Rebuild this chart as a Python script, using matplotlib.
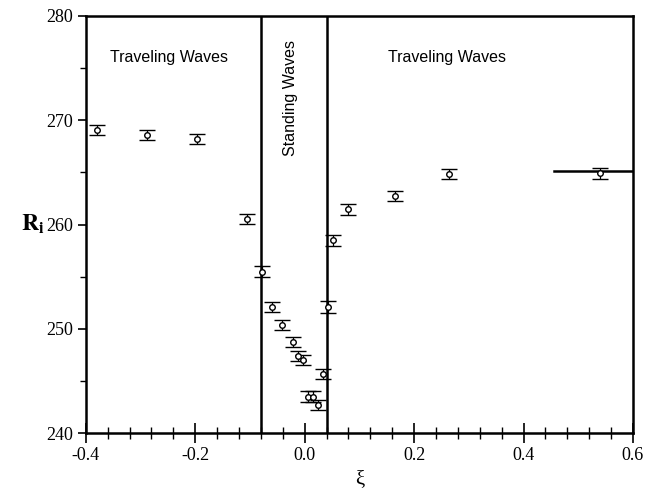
import numpy as np
import matplotlib
matplotlib.use('Agg')
import matplotlib.pyplot as plt
from matplotlib.ticker import MultipleLocator

plt.rcParams.update({
    'font.family': 'serif',
    'font.serif': ['Liberation Serif', 'DejaVu Serif'],
    'mathtext.fontset': 'stix',
    'axes.unicode_minus': False,
})

# measured points: reduced parameter xi, critical value R_i, uncertainty
xi = [-0.380, -0.288, -0.196, -0.105, -0.078, -0.059, -0.041, -0.021,
      -0.012, -0.003, 0.007, 0.016, 0.025, 0.034, 0.042, 0.052,
      0.080, 0.166, 0.264, 0.540]
R_i = [269.05, 268.57, 268.19, 260.55, 255.47, 252.08, 250.38, 248.72,
       247.41, 247.03, 243.52, 243.52, 242.75, 245.69, 252.11, 258.50,
       261.45, 262.75, 264.86, 264.90]
R_err = [0.50, 0.50, 0.50, 0.50, 0.52, 0.50, 0.50, 0.50,
         0.50, 0.50, 0.52, 0.52, 0.48, 0.50, 0.55, 0.55,
         0.50, 0.50, 0.50, 0.50]

# boundaries of the standing-wave region
boundaries = [-0.08, 0.04]

# asymptotic level drawn at the right edge
asym_xi = [0.455, 0.6]
asym_R = [265.15, 265.15]

fig = plt.figure(figsize=(6.6, 4.98), dpi=100)
ax = fig.add_axes([0.130, 0.130, 0.829, 0.838])

for b in boundaries:
    ax.axvline(b, color='black', linewidth=1.8, zorder=2)

ax.plot(asym_xi, asym_R, color='black', linewidth=1.8, zorder=2)

ax.errorbar(xi, R_i, yerr=R_err, fmt='o', markersize=4,
            markerfacecolor='white', markeredgecolor='black',
            markeredgewidth=1.0, ecolor='black', elinewidth=0.9,
            capsize=5.8, capthick=1.2, zorder=3)

ax.set_xlim(-0.4, 0.6)
ax.set_ylim(240, 280)
ax.xaxis.set_major_locator(MultipleLocator(0.2))
ax.xaxis.set_minor_locator(MultipleLocator(0.04))
ax.yaxis.set_major_locator(MultipleLocator(10))
ax.yaxis.set_minor_locator(MultipleLocator(5))
ax.xaxis.set_major_formatter(plt.FuncFormatter(lambda v, p: f'{v:.1f}'))

ax.tick_params(axis='x', which='major', direction='inout', length=14,
               width=1.2, labelsize=13, pad=3)
ax.tick_params(axis='x', which='minor', direction='inout', length=8,
               width=1.0)
ax.tick_params(axis='y', which='major', direction='out', length=6,
               width=1.2, labelsize=13, pad=3)
ax.tick_params(axis='y', which='minor', direction='out', length=4,
               width=1.0)

for spine in ax.spines.values():
    spine.set_linewidth(1.8)

ax.set_xlabel('ξ', fontsize=15, labelpad=4)
ax.set_ylabel(r'$\mathbf{R_i}$', fontsize=17, rotation=0, labelpad=10,
              va='center')

sans = ['Liberation Sans', 'DejaVu Sans']
ax.text(-0.248, 276.0, 'Traveling Waves', family=sans, fontsize=11.5,
        ha='center', va='center')
ax.text(0.26, 276.0, 'Traveling Waves', family=sans, fontsize=11.5,
        ha='center', va='center')
ax.text(-0.025, 272.1, 'Standing Waves', family=sans, fontsize=11.5,
        ha='center', va='center', rotation=90)

fig.savefig('out.png', dpi=100, facecolor='white')
